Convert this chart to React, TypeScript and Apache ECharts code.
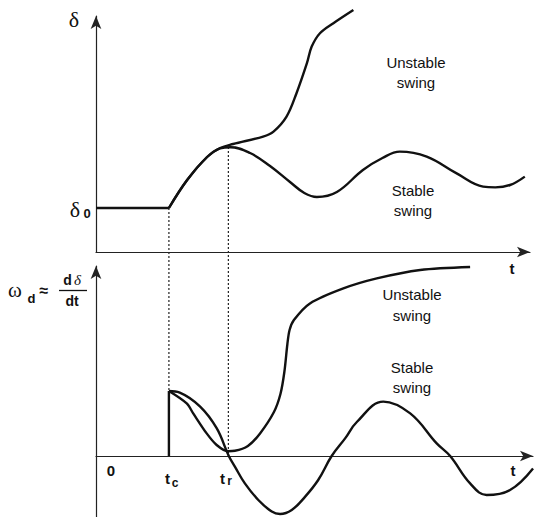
import React, { useEffect, useRef } from "react";
import * as echarts from "echarts";

// ---- data (t in arbitrary time units, δ and ω in arbitrary units) ----
const tClear = 1.68; // t_c
const tReturn = 3.05; // t_r
const delta0 = 22;
const deltaPeak = 52.5;
const omegaStart = 32.5;

const deltaPreFault: [number, number][] = [
  [0, 22],
  [1.68, 22],
];
const deltaUnstable: [number, number][] = [
  [1.68, 22], [2.1, 36], [2.56, 47.5], [2.86, 52], [3.16, 54], [3.85, 57.7],
  [4.09, 60.2], [4.39, 67.7], [4.62, 79.4], [4.86, 94.4], [4.97, 102.7],
  [5.16, 109.4], [5.47, 114.4], [5.93, 121],
];
const deltaStable: [number, number][] = [
  [1.68, 22], [2.1, 36], [2.56, 47.5], [2.86, 51.8], [3.1, 52.4], [3.55, 49.5],
  [4.01, 43], [4.47, 35], [4.8, 29.5], [5.09, 27.5], [5.55, 30],
  [6.15, 41], [6.6, 47], [7.0, 50.2], [7.62, 47.7], [8.31, 39.3], [8.92, 32.7],
  [9.2, 32.3], [9.54, 33.5], [9.88, 37.7],
];
const omegaJump: [number, number][] = [
  [1.68, 0],
  [1.68, 32.5],
];
const omegaStable: [number, number][] = [
  [1.68, 32.5], [1.93, 31.7], [2.4, 24.7], [2.78, 13.9], [3.06, 0], [3.2, -5.3],
  [3.43, -13.7], [3.74, -22], [4.05, -27.8], [4.24, -29], [4.51, -27], [4.82, -20.3],
  [5.12, -12], [5.43, 0], [5.74, 8.8], [6.01, 17], [6.62, 27.2], [7.24, 21.3],
  [7.85, 6.3], [8.16, 0], [8.62, -13.7], [9.0, -19.5], [9.54, -17], [10.07, -6.2],
];
const omegaUnstable: [number, number][] = [
  [1.68, 32.5], [2.09, 26.3], [2.24, 21.3], [2.55, 11.3], [2.78, 5.5], [3.04, 2.4],
  [3.2, 2.6], [3.5, 5], [3.78, 11.3], [4.1, 22], [4.25, 31], [4.34, 42],
  [4.41, 56], [4.46, 63], [4.56, 68], [4.93, 76.3], [5.7, 83.8], [6.47, 88.8],
  [7.47, 93], [8.62, 94.5],
];

const unstableLabel = "Unstable\nswing";
const stableLabel = "Stable\nswing";
const timeLabel = "t";
const originLabel = "0";

const INK = "#111";
const SANS = "Liberation Sans, Arial, sans-serif";
const SERIF = "Liberation Serif, Times New Roman, serif";

export default function App() {
  const ref = useRef<HTMLDivElement>(null);
  useEffect(() => {
    const el = ref.current!;
    const chart = echarts.init(el, undefined, { renderer: "svg", width: 540, height: 517 });
    const curve = { color: INK, width: 2.4 };
    const axisLine = () => ({
      show: true,
      onZero: true,
      symbol: ["none", "arrow"],
      symbolSize: [8, 13],
      lineStyle: { color: "#222", width: 1.2 },
    });
    const bare = {
      type: "value" as const,
      axisTick: { show: false },
      axisLabel: { show: false },
      splitLine: { show: false },
    };
    const line = (data: [number, number][], g: number, smooth: number | boolean) => ({
      type: "line",
      data,
      xAxisIndex: g,
      yAxisIndex: g,
      smooth,
      symbol: "none",
      clip: false,
      silent: true,
      lineStyle: curve,
    });
    chart.setOption({
      animation: false,
      backgroundColor: "#fff",
      grid: [
        { left: 96, top: 16, width: 434, height: 236, outerBoundsMode: "none" },
        { left: 96, top: 266, width: 437, height: 251, outerBoundsMode: "none" },
      ],
      xAxis: [
        { ...bare, gridIndex: 0, min: 0, max: 10, axisLine: axisLine() },
        { ...bare, gridIndex: 1, min: 0, max: 437 / 43.4, axisLine: axisLine() },
      ],
      yAxis: [
        { ...bare, gridIndex: 0, min: 0, max: 118, axisLine: axisLine() },
        { ...bare, gridIndex: 1, min: -30.5, max: 95, axisLine: axisLine() },
      ],
      series: [
        line(deltaPreFault, 0, false),
        line(deltaUnstable, 0, 0.35),
        line(deltaStable, 0, 0.4),
        line(omegaJump, 1, false),
        line(omegaStable, 1, 0.4),
        line(omegaUnstable, 1, 0.3),
      ],
    });

    const a1 = chart.convertToPixel({ gridIndex: 0 } as any, [tClear, delta0]) as number[];
    const b1 = chart.convertToPixel({ gridIndex: 1 } as any, [tClear, omegaStart]) as number[];
    const a2 = chart.convertToPixel({ gridIndex: 0 } as any, [tReturn, deltaPeak]) as number[];
    const b2 = chart.convertToPixel({ gridIndex: 1 } as any, [tReturn, 0]) as number[];
    const dotted = (p: number[], q: number[]) => ({
      type: "line",
      silent: true,
      shape: { x1: p[0], y1: p[1], x2: q[0], y2: q[1] },
      style: { stroke: "#222", lineWidth: 1.2, lineDash: [2, 2] },
    });
    const txt = (
      text: string,
      x: number,
      y: number,
      size: number,
      family = SANS,
      weight: string = "normal",
      extra: any = {}
    ) => ({
      type: "text",
      x,
      y,
      silent: true,
      style: {
        text,
        fill: INK,
        fontSize: size,
        fontFamily: family,
        fontWeight: weight,
        align: "center",
        verticalAlign: "middle",
        textAlign: "center",
        textVerticalAlign: "middle",
        ...extra,
      },
    });
    chart.setOption({
      graphic: [
        dotted(a1, b1),
        dotted(a2, b2),
        txt("δ", 74, 19, 22, SERIF),
        txt("δ", 75, 209, 22, SERIF),
        txt("0", 87, 213, 13, SANS, "bold"),
        txt("ω", 15, 290, 21, SERIF),
        txt("d", 31.5, 298, 13, SANS, "bold"),
        txt("≈", 44, 290, 16, SANS, "bold"),
        txt("d", 67.5, 280, 14, SANS, "bold"),
        txt("δ", 77.5, 280, 15, SERIF, "normal", { fontStyle: "italic" }),
        {
          type: "line",
          silent: true,
          shape: { x1: 59, y1: 290.5, x2: 87, y2: 290.5 },
          style: { stroke: INK, lineWidth: 1.3 },
        },
        txt("dt", 72, 301, 14, SANS, "bold"),
        txt(timeLabel, 512, 268, 15, SANS, "bold"),
        txt(timeLabel, 513, 470, 15, SANS, "bold"),
        txt(originLabel, 111, 470, 15, SANS, "bold"),
        txt("t", 167.5, 478.5, 15, SANS, "bold"),
        txt("c", 175, 483, 12, SANS, "bold"),
        txt("t", 222.5, 478.5, 15, SANS, "bold"),
        txt("r", 229.5, 481, 12, SANS, "bold"),
        txt(unstableLabel, 416, 72, 15, SANS, "normal", { lineHeight: 20 }),
        txt(stableLabel, 413, 200, 15, SANS, "normal", { lineHeight: 20 }),
        txt(unstableLabel, 412, 304.5, 15, SANS, "normal", { lineHeight: 21 }),
        txt(stableLabel, 412, 377, 15, SANS, "normal", { lineHeight: 20 }),
      ],
    });
    return () => chart.dispose();
  }, []);
  return (
    <div
      ref={ref}
      style={{ position: "fixed", left: 0, top: 0, width: 540, height: 517, background: "#fff" }}
    />
  );
}
